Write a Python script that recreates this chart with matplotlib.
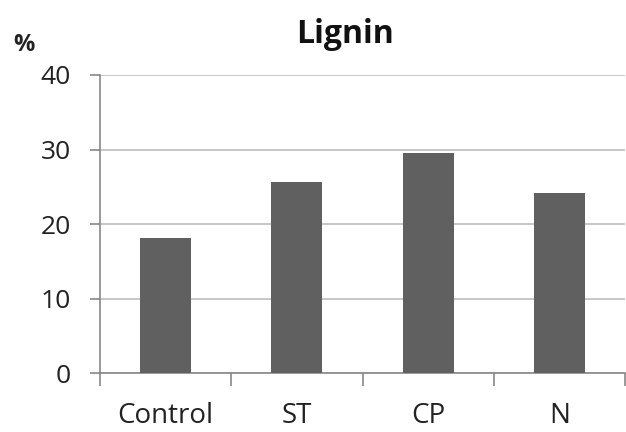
import matplotlib
matplotlib.use("Agg")
import matplotlib.pyplot as plt
import numpy as np

categories = ["Control", "ST", "CP", "N"]
lignin = [18.2, 25.6, 29.6, 24.2]
y_ticks = [0, 10, 20, 30, 40]

plt.rcParams["font.family"] = ["Open Sans", "DejaVu Sans"]

fig = plt.figure(figsize=(6.26, 4.32), dpi=100)
ax = fig.add_axes([100 / 626, 1 - 373.3 / 432, 525 / 626, (373.3 - 75) / 432])

x = np.arange(len(categories))
ax.bar(x, lignin, width=0.39, color="#606060", zorder=3)

ax.set_xlim(-0.5, len(categories) - 0.5)
ax.set_ylim(0, 40)
ax.set_yticks(y_ticks)
ax.set_yticklabels([str(v) for v in y_ticks], fontsize=19, color="#222222")
ax.yaxis.grid(True, color="#bdbdbd", linewidth=1.2, zorder=0)

# category labels at bar centres, tick marks between categories
ax.set_xticks(x)
ax.set_xticklabels(categories, fontsize=20, color="#222222")
ax.tick_params(axis="x", length=0, pad=21)
ax.set_xticks(np.arange(-0.5, len(categories) + 0.5, 1), minor=True)
ax.tick_params(axis="x", which="minor", length=9, color="#888888", width=1.2, direction="out")
ax.tick_params(axis="y", length=7, color="#888888", width=1.2, pad=14)

for side in ("top", "right"):
    ax.spines[side].set_visible(False)
for side in ("left", "bottom"):
    ax.spines[side].set_color("#888888")
    ax.spines[side].set_linewidth(1.2)

fig.text(345 / 626, 1 - 43 / 432, "Lignin", ha="center", va="baseline",
         fontsize=23, fontweight="bold", color="#111111")
fig.text(24 / 626, 1 - 51 / 432, "%", ha="center", va="baseline",
         fontsize=17, fontweight="bold", color="#222222")

fig.savefig("out.png", dpi=100)
